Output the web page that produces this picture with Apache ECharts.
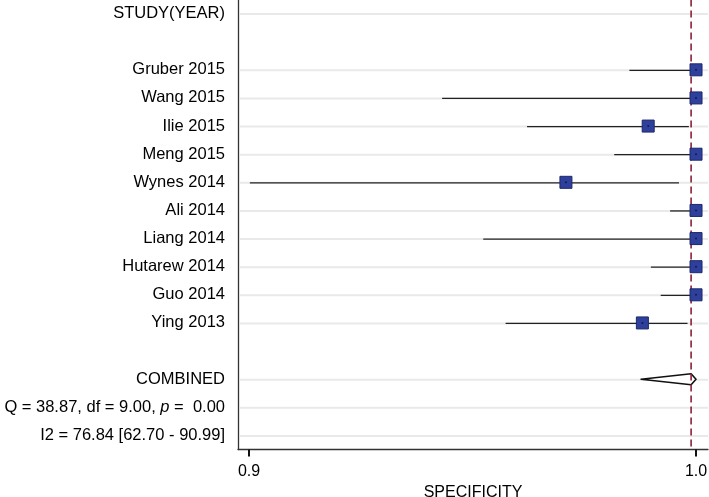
<!DOCTYPE html>
<html>
<head>
<meta charset="utf-8">
<script src="https://cdn.jsdelivr.net/npm/echarts@6/dist/echarts.min.js"></script>
<style>
  html, body { margin: 0; padding: 0; background: #fff; }
  #chart { width: 709px; height: 497px; }
</style>
</head>
<body>
<div id="chart"></div>
<script>
// ---- data ----
const studies = ['Gruber 2015', 'Wang 2015', 'Ilie 2015', 'Meng 2015', 'Wynes 2014',
                 'Ali 2014', 'Liang 2014', 'Hutarew 2014', 'Guo 2014', 'Ying 2013'];
const specificity = [1.000, 1.000, 0.9893, 1.000, 0.9709, 1.000, 1.000, 1.000, 1.000, 0.9880];
const ciLower     = [0.9851, 0.9432, 0.9622, 0.9817, 0.9002, 0.9942, 0.9524, 0.9899, 0.9921, 0.9574];
const ciUpper     = [1.000, 1.000, 0.9984, 1.000, 0.9962, 1.000, 1.000, 1.000, 1.000, 0.9981];
const combined    = [0.9989, 0.9877, 1.000]; // estimate, lower, upper
const heterogeneity = { Q: '38.87', df: '9.00', p: '0.00' };
const i2Stats = ['76.84', '62.70', '90.99'];
const xTicks = [0.9, 1.0];

// ---- rows (top to bottom) ----
const rowLabels = ['STUDY(YEAR)', ''].concat(studies).concat([
  '', 'COMBINED',
  'Q = ' + heterogeneity.Q + ', df = ' + heterogeneity.df + ', {it|p} =  ' + heterogeneity.p,
  'I2 = ' + i2Stats[0] + ' [' + i2Stats[1] + ' - ' + i2Stats[2] + ']'
]);
const rowCats = rowLabels.map((_, i) => 'r' + i);
const studyRow0 = 2;
const combinedRow = studyRow0 + studies.length + 1;

const gridRows = rowLabels.map((l, i) => l !== '' ? i : null).filter(v => v !== null);
const ciData = studies.map((s, i) => [ciLower[i], ciUpper[i], studyRow0 + i]);
const ptData = studies.map((s, i) => [specificity[i], studyRow0 + i]);

const xMin = 0.89754, xMax = 1.00268;

const chart = echarts.init(document.getElementById('chart'));
chart.setOption({
  animation: false,
  backgroundColor: '#ffffff',
  textStyle: { fontFamily: 'Liberation Sans, Arial, sans-serif' },
  grid: { left: 238, right: 1, top: -0.5, height: 450, containLabel: false, outerBoundsMode: 'none' },
  xAxis: {
    type: 'value', min: xMin, max: xMax,
    axisLine: { show: true, onZero: false, lineStyle: { color: '#333', width: 1.3 } },
    axisTick: { show: true, customValues: xTicks, length: 7, lineStyle: { color: '#111', width: 2 } },
    axisLabel: { customValues: xTicks, formatter: v => v.toFixed(1), fontSize: 16, color: '#000', margin: 14 },
    splitLine: { show: false },
    name: 'SPECIFICITY', nameLocation: 'middle', nameGap: 28,
    nameTextStyle: { fontSize: 16, color: '#000' }
  },
  yAxis: {
    type: 'category', inverse: true, data: rowCats,
    axisLine: { show: true, lineStyle: { color: '#333', width: 1.3 } },
    axisTick: { show: false },
    splitLine: { show: false },
    axisLabel: {
      interval: 0, margin: 13, fontSize: 16.5, color: '#000',
      formatter: (v, i) => rowLabels[i],
      rich: { it: { fontStyle: 'italic', fontSize: 16.5, color: '#000' } }
    }
  },
  series: [
    {
      type: 'custom', z: 1, silent: true,
      dimensions: ['x', 'row'],
      data: gridRows.map(i => [xMin, i]),
      renderItem: function (params, api) {
        const y = api.coord([api.value(0), api.value(1)])[1] + 0.5;
        const cs = params.coordSys;
        return { type: 'line', shape: { x1: cs.x + 2, y1: y, x2: cs.x + cs.width, y2: y },
                 style: { stroke: '#e9e9e9', lineWidth: 2 } };
      },
      encode: { x: 0, y: 1 }
    },
    {
      type: 'custom', z: 2, silent: true,
      dimensions: ['lo', 'hi', 'row'],
      data: ciData,
      renderItem: function (params, api) {
        const a = api.coord([api.value(0), api.value(2)]);
        const b = api.coord([api.value(1), api.value(2)]);
        return { type: 'line', shape: { x1: a[0], y1: a[1] + 0.5, x2: b[0], y2: b[1] + 0.5 },
                 style: { stroke: '#222', lineWidth: 1.3 } };
      },
      encode: { x: [0, 1], y: 2 }
    },
    {
      type: 'custom', z: 3, silent: true,
      dimensions: ['est', 'lo', 'hi', 'row'],
      data: [[combined[0], combined[1], combined[2], combinedRow]],
      renderItem: function (params, api) {
        const row = api.value(3);
        const L = api.coord([api.value(1), row]);
        const M = api.coord([api.value(0), row]);
        const R = api.coord([api.value(2), row]);
        const h = 5.5;
        return { type: 'polygon',
                 shape: { points: [[L[0], L[1]], [M[0], M[1] - h], [R[0], R[1]], [M[0], M[1] + h]] },
                 style: { fill: '#fff', stroke: '#111', lineWidth: 1.6, lineJoin: 'round' } };
      },
      encode: { x: [0, 1, 2], y: 3 }
    },
    {
      type: 'custom', z: 4, silent: true,
      dimensions: ['est'],
      data: [[combined[0], 0]],
      renderItem: function (params, api) {
        const x = api.coord([api.value(0), 0])[0];
        const cs = params.coordSys;
        return { type: 'line', shape: { x1: x, y1: cs.y, x2: x, y2: cs.y + cs.height },
                 style: { stroke: '#8a2238', lineWidth: 1.6, lineDash: [7, 4] } };
      },
      encode: { x: 0, y: 1 }
    },
    {
      type: 'scatter', z: 5, silent: true,
      data: ptData, symbol: 'rect', symbolSize: 12,
      itemStyle: { color: '#2f409c', borderColor: '#1c286b', borderWidth: 1, opacity: 1 }
    },
    {
      type: 'scatter', z: 6, silent: true,
      data: ptData, symbol: 'circle', symbolSize: 2,
      itemStyle: { color: '#111a4a', opacity: 1 }
    }
  ]
});
</script>
</body>
</html>
